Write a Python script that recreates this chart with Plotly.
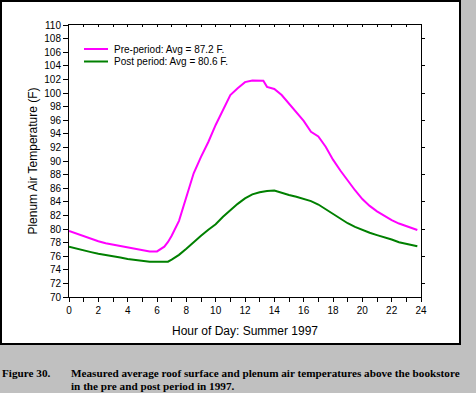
import plotly.graph_objects as go

# ---- data ----
hours = [0, 0.5, 1, 1.5, 2, 2.5, 3, 3.5, 4, 4.5, 5, 5.5, 6, 6.5, 6.75, 7, 7.5, 8, 8.5, 9,
         9.5, 10, 10.5, 11, 11.5, 12, 12.5, 13, 13.25, 13.5, 14, 14.5, 15, 15.5, 16, 16.5,
         17, 17.5, 18, 18.5, 19, 19.5, 20, 20.5, 21, 21.5, 22, 22.5, 23, 23.5, 23.75]

pre_period = [79.7, 79.3, 78.9, 78.6, 78.2, 77.9, 77.7, 77.5, 77.3, 77.1, 76.9, 76.7, 76.7, 77.4, 78.1,
              79.0, 81.2, 84.8, 88.2, 90.6, 92.8, 95.3, 97.5, 99.7, 100.7, 101.6, 101.85, 101.85,
              101.8, 100.9, 100.6, 99.7, 98.4, 97.2, 95.9, 94.3, 93.6, 92.1, 90.2, 88.6, 87.1,
              85.7, 84.4, 83.4, 82.6, 81.9, 81.3, 80.8, 80.4, 80.0, 79.85]

post_period = [77.4, 77.1, 76.8, 76.6, 76.35, 76.2, 75.95, 75.8, 75.6, 75.45, 75.35, 75.2, 75.2, 75.2,
               75.2, 75.5, 76.2, 77.1, 78.1, 79.0, 79.9, 80.7, 81.8, 82.8, 83.7, 84.5, 85.1, 85.4,
               85.5, 85.6, 85.65, 85.3, 85.0, 84.75, 84.4, 84.1, 83.6, 82.9, 82.2, 81.5, 80.85,
               80.3, 79.85, 79.45, 79.1, 78.8, 78.45, 78.05, 77.85, 77.6, 77.45]

series_names = ["Pre-period: Avg = 87.2 F.", "Post period: Avg = 80.6 F."]
series_colors = ["#FF00FF", "#008000"]

x_title = "Hour of Day: Summer 1997"
y_title = "Plenum Air Temperature (F)"
caption_label = "Figure 30."
caption_lines = ["Measured average roof surface and plenum air temperatures above the bookstore",
                 "in the pre and post period in 1997."]

# ---- layout geometry (pixels) ----
W, H = 476, 393
L, R, T, B = 69, 421, 25, 297
pw, ph = R - L, B - T


def px(xp):
    return (xp - L) / pw


def py(yp):
    return (B - yp) / ph


fig = go.Figure()
for name, vals, col in zip(series_names, [pre_period, post_period], series_colors):
    fig.add_trace(go.Scatter(x=hours, y=vals, mode="lines", name=name,
                             line=dict(color=col, width=2), showlegend=False))

# invisible trace to carry the mirror-tick axes
fig.add_trace(go.Scatter(x=hours, y=pre_period, xaxis="x2", yaxis="y2", mode="lines",
                         line=dict(width=0), opacity=0, showlegend=False, hoverinfo="skip"))

font_ax = dict(family="Liberation Sans, Arial", size=10, color="black")

fig.update_layout(
    width=W, height=H,
    margin=dict(l=L, r=W - R, t=T, b=H - B),
    paper_bgcolor="#C0C0C0",
    plot_bgcolor="white",
    showlegend=False,
    xaxis=dict(range=[0, 24], dtick=2, tick0=0, ticks="outside", ticklen=4, tickwidth=1,
               tickcolor="black", showline=True, linecolor="black", linewidth=1, mirror=True,
               showgrid=False, zeroline=False, tickfont=font_ax,
               minor=dict(dtick=1, ticks="outside", ticklen=4, tickcolor="black", showgrid=False),
               title=dict(text=x_title, font=dict(family="Liberation Sans, Arial", size=12, color="black"),
                          standoff=11)),
    yaxis=dict(range=[70, 110], dtick=2, ticks="outside", ticklen=5, tickwidth=1, tickcolor="black",
               showline=True, linecolor="black", linewidth=1, mirror=True, showgrid=False,
               zeroline=False, tickfont=font_ax,
               title=dict(text=y_title, font=dict(family="Liberation Sans, Arial", size=12, color="black"),
                          standoff=4)),
    xaxis2=dict(overlaying="x", side="top", range=[0, 24], dtick=1, ticks="inside", ticklen=2,
                tickcolor="black", showticklabels=False, showline=False, showgrid=False, zeroline=False),
    yaxis2=dict(overlaying="y", side="right", range=[70, 110], dtick=4, ticks="outside", ticklen=3,
                tickcolor="black", showticklabels=False, showline=False, showgrid=False, zeroline=False),
)

shapes = [
    # white panel behind the chart
    dict(type="rect", xref="paper", yref="paper", x0=px(1), x1=px(460), y0=py(1), y1=py(344),
         fillcolor="white", line=dict(color="black", width=2), layer="below"),
]
# legend samples
leg_y = [49, 61.5]
for yy, col in zip(leg_y, series_colors):
    shapes.append(dict(type="line", xref="paper", yref="paper", x0=px(84), x1=px(108),
                       y0=py(yy), y1=py(yy), line=dict(color=col, width=2)))
fig.update_layout(shapes=shapes)

ann = []
for yy, name in zip(leg_y, series_names):
    ann.append(dict(xref="paper", yref="paper", x=px(112), y=py(yy), text=name, showarrow=False,
                    xanchor="left", yanchor="middle",
                    font=dict(family="Liberation Sans, Arial", size=10, color="black")))
cap_font = dict(family="Liberation Serif, Times New Roman", size=11.2, color="black")
ann.append(dict(xref="paper", yref="paper", x=px(0), y=py(373), text="<b>%s</b>" % caption_label,
                showarrow=False, xanchor="left", yanchor="middle", font=cap_font))
ann.append(dict(xref="paper", yref="paper", x=px(69), y=py(373), text="<b>%s</b>" % caption_lines[0],
                showarrow=False, xanchor="left", yanchor="middle", font=cap_font))
ann.append(dict(xref="paper", yref="paper", x=px(69), y=py(386), text="<b>%s</b>" % caption_lines[1],
                showarrow=False, xanchor="left", yanchor="middle", font=cap_font))
fig.update_layout(annotations=ann)

fig.write_html("out.html", config=dict(displayModeBar=False),
               post_script="document.body.style.margin='0';")
